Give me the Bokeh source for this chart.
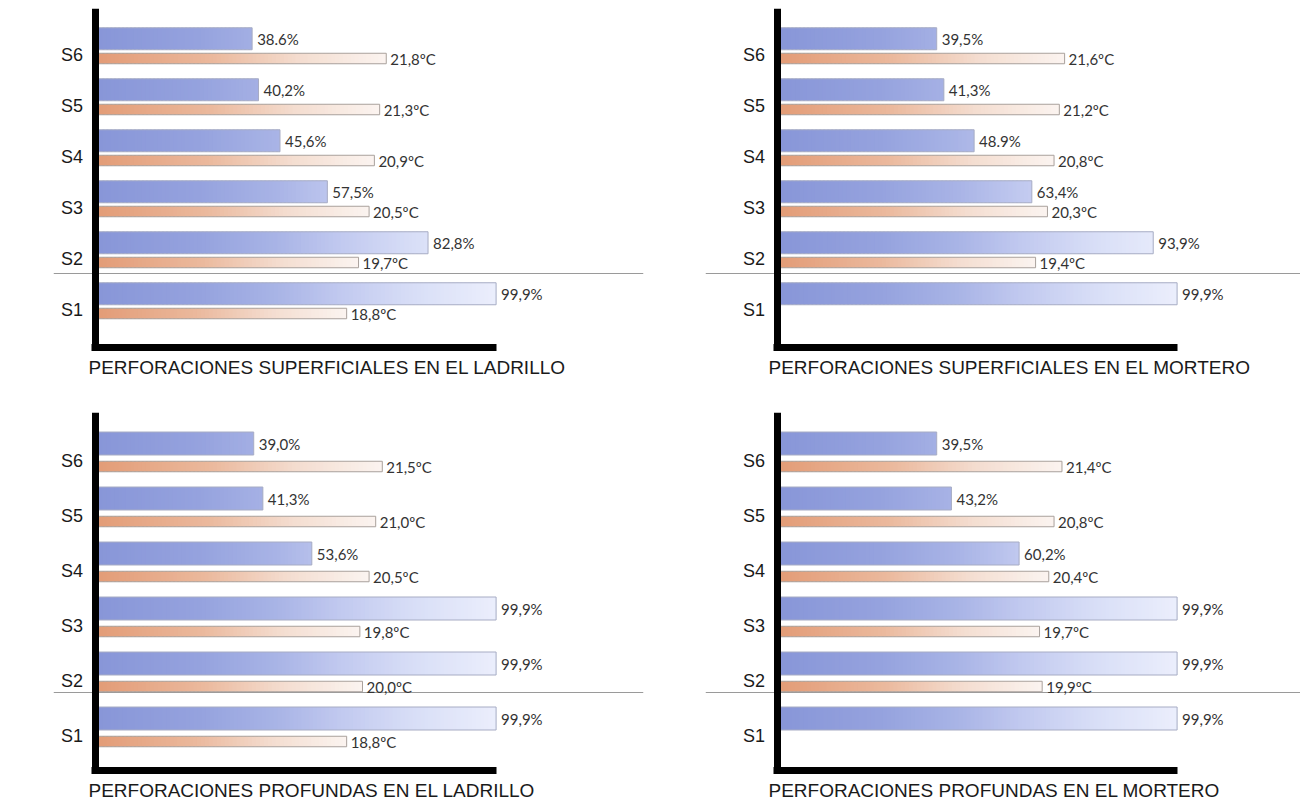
import math
from bokeh.plotting import figure
from bokeh.models import Range1d, FixedTicker, Span, Title, ColumnDataSource
from bokeh.layouts import column, row
from bokeh.core.properties import value
from bokeh.embed import file_html
from bokeh.resources import INLINE

# ---------------- data ----------------
categories = ["S1", "S2", "S3", "S4", "S5", "S6"]

titles = [
    "PERFORACIONES SUPERFICIALES EN EL LADRILLO",
    "PERFORACIONES SUPERFICIALES EN EL MORTERO",
    "PERFORACIONES PROFUNDAS EN EL LADRILLO",
    "PERFORACIONES PROFUNDAS EN EL MORTERO",
]

sup_ladrillo_pct = [99.9, 82.8, 57.5, 45.6, 40.2, 38.6]
sup_ladrillo_temp = [18.8, 19.7, 20.5, 20.9, 21.3, 21.8]
sup_ladrillo_pct_labels = ["99,9%", "82,8%", "57,5%", "45,6%", "40,2%", "38.6%"]
sup_ladrillo_temp_labels = ["18,8ºC", "19,7ºC", "20,5ºC", "20,9ºC", "21,3ºC", "21,8ºC"]

sup_mortero_pct = [99.9, 93.9, 63.4, 48.9, 41.3, 39.5]
sup_mortero_temp = [None, 19.4, 20.3, 20.8, 21.2, 21.6]
sup_mortero_pct_labels = ["99,9%", "93,9%", "63,4%", "48.9%", "41,3%", "39,5%"]
sup_mortero_temp_labels = [None, "19,4ºC", "20,3ºC", "20,8ºC", "21,2ºC", "21,6ºC"]

prof_ladrillo_pct = [99.9, 99.9, 99.9, 53.6, 41.3, 39.0]
prof_ladrillo_temp = [18.8, 20.0, 19.8, 20.5, 21.0, 21.5]
prof_ladrillo_pct_labels = ["99,9%", "99,9%", "99,9%", "53,6%", "41,3%", "39,0%"]
prof_ladrillo_temp_labels = ["18,8ºC", "20,0ºC", "19,8ºC", "20,5ºC", "21,0ºC", "21,5ºC"]

prof_mortero_pct = [99.9, 99.9, 99.9, 60.2, 43.2, 39.5]
prof_mortero_temp = [None, 19.9, 19.7, 20.4, 20.8, 21.4]
prof_mortero_pct_labels = ["99,9%", "99,9%", "99,9%", "60,2%", "43,2%", "39,5%"]
prof_mortero_temp_labels = [None, "19,9ºC", "19,7ºC", "20,4ºC", "20,8ºC", "21,4ºC"]

# ---------------- styling / geometry ----------------
BLUE_STOPS = [(0.0, "#8896d8"), (0.25, "#95a2de"), (0.45, "#a9b4e6"),
              (0.6, "#c0c8ef"), (0.8, "#d9dff7"), (1.0, "#ebeefc")]
TEMP_STOPS = [(0.0, "#e39c77"), (0.4, "#ebb99d"), (0.7, "#f4ddd0"), (1.0, "#fbf4f0")]

PX_PER_PCT = 3.98
PX_PER_DEG = 13.2

COLS = {
    "left": dict(border_left=53, frame_w=590, border_right=17, frame_left=53,
                 zero=98, axis_l=91, title_off=35),
    "right": dict(border_left=45, frame_w=595, border_right=0, frame_left=705,
                  zero=779, axis_l=773, title_off=63),
}
ROWS = {
    "top": dict(border_top=8, frame_h=339, border_bottom=57, frame_top=8,
                tick_s6=54, unit=51, blue_off=-15.75, blue_h=22,
                temp_off=4, temp_h=10.5, sep=273),
    "bottom": dict(border_top=8, frame_h=358, border_bottom=27, frame_top=412,
                   tick_s6=460, unit=55, blue_off=-17, blue_h=23,
                   temp_off=6, temp_h=10.5, sep=692),
}

LABEL_FONT = "Liberation Sans"
VALUE_FONT = "Lato"


def hex2rgb(h):
    return tuple(int(h[i:i + 2], 16) for i in (1, 3, 5))


def interp(stops, t):
    t = max(0.0, min(1.0, t))
    for (t0, c0), (t1, c1) in zip(stops, stops[1:]):
        if t <= t1:
            u = (t - t0) / (t1 - t0) if t1 > t0 else 0
            a, b = hex2rgb(c0), hex2rgb(c1)
            return "#%02x%02x%02x" % tuple(round(a[i] + (b[i] - a[i]) * u) for i in range(3))
    return stops[-1][1]


def slices(vals, ys, step, stops, scale=None):
    """Split each bar (0..v) into thin, slightly overlapping slices for a gradient."""
    L, R, Y, C = [], [], [], []
    for v, y in zip(vals, ys):
        if v is None:
            continue
        n = max(1, int(math.ceil(v / step)))
        for i in range(n):
            a = v * i / n
            b = v * (i + 1) / n
            t = ((a + b) / 2) / (scale if scale else v)
            L.append(a)
            R.append(min(v, b + 0.5 * (b - a)))
            Y.append(y)
            C.append(interp(stops, t))
    return dict(left=L, right=R, y=Y, color=C)


def panel(title, pct, temp, pct_labels, temp_labels, col, rw):
    g = COLS[col]
    t = ROWS[rw]
    unit = t["unit"]
    x_start = (g["frame_left"] - g["zero"]) / PX_PER_PCT
    x_end = (g["frame_left"] + g["frame_w"] - g["zero"]) / PX_PER_PCT
    tx_start = (g["frame_left"] - g["zero"]) / PX_PER_DEG
    tx_end = (g["frame_left"] + g["frame_w"] - g["zero"]) / PX_PER_DEG
    y_end = 6 + (t["tick_s6"] - t["frame_top"]) / unit
    y_start = y_end - t["frame_h"] / unit

    p = figure(frame_width=g["frame_w"], frame_height=t["frame_h"],
               min_border_left=g["border_left"], min_border_right=g["border_right"],
               min_border_top=t["border_top"], min_border_bottom=t["border_bottom"],
               x_range=Range1d(x_start, x_end), y_range=Range1d(y_start, y_end),
               output_backend="svg", toolbar_location=None, tools="", title=None)
    p.extra_x_ranges = {"temp": Range1d(tx_start, tx_end)}
    p.xgrid.visible = False
    p.ygrid.visible = False
    p.outline_line_color = None
    p.background_fill_color = "white"
    p.border_fill_color = "white"

    pos = [i + 1 for i in range(len(categories))]
    blue_y = [k - t["blue_off"] / unit for k in pos]
    temp_y = [k - t["temp_off"] / unit for k in pos]
    blue_h = t["blue_h"] / unit
    temp_h = t["temp_h"] / unit

    # separator line between S1 and S2
    tick_s1 = t["tick_s6"] + 5 * unit
    sep_loc = 1 + (tick_s1 - t["sep"]) / unit
    p.add_layout(Span(location=sep_loc, dimension="width", line_color="#9a9a9a",
                      line_width=1, level="underlay"))

    # blue (percentage) bars with gradient
    bs = ColumnDataSource(slices(pct, blue_y, 1.0, BLUE_STOPS, scale=100.0))
    p.hbar(y="y", left="left", right="right", height=blue_h, source=bs,
           fill_color="color", line_color=None)
    p.hbar(y=blue_y, left=0, right=pct, height=blue_h, fill_color=None,
           line_color="#a7acc4", line_width=1)

    # temperature bars with gradient
    tv = [v for v in temp if v is not None]
    ty = [y for v, y in zip(temp, temp_y) if v is not None]
    ts = ColumnDataSource(slices(tv, ty, 0.3, TEMP_STOPS))
    p.hbar(y="y", left="left", right="right", height=temp_h, source=ts,
           fill_color="color", line_color=None, x_range_name="temp")
    p.hbar(y=ty, left=0, right=tv, height=temp_h, fill_color=None,
           line_color="#a9a19c", line_width=1, x_range_name="temp")

    # value labels
    p.text(x=pct, y=blue_y, text=pct_labels, x_offset=5, text_baseline="middle",
           text_align="left", text_font=value(VALUE_FONT), text_font_size="15px",
           text_color="#333333")
    tl = [s for s in temp_labels if s is not None]
    p.text(x=tv, y=ty, text=tl, x_offset=4, text_baseline="middle",
           text_align="left", text_font=value(VALUE_FONT), text_font_size="15px",
           text_color="#333333", x_range_name="temp")

    # y axis (thick black line with category labels)
    ya = p.yaxis[0]
    ya.ticker = FixedTicker(ticks=pos)
    ya.major_label_overrides = {k: c for k, c in zip(pos, categories)}
    ya.fixed_location = (g["axis_l"] + 3.5 - g["zero"]) / PX_PER_PCT
    ya.axis_line_width = 7
    ya.axis_line_color = "black"
    ya.major_tick_line_color = None
    ya.minor_tick_line_color = None
    ya.major_tick_out = 0
    ya.major_tick_in = 0
    ya.minor_tick_out = 0
    ya.minor_tick_in = 0
    ya.major_label_standoff = 12
    ya.major_label_text_font = LABEL_FONT
    ya.major_label_text_font_size = "18px"
    ya.major_label_text_color = "#1a1a1a"

    # x axis (thick black baseline, no ticks)
    xa = p.xaxis[0]
    xa.ticker = FixedTicker(ticks=[])
    xa.bounds = ((g["axis_l"] - g["zero"]) / PX_PER_PCT, 100)
    xa.axis_line_width = 7
    xa.axis_line_color = "black"
    xa.major_tick_line_color = None
    xa.minor_tick_line_color = None
    xa.major_tick_out = 4
    xa.major_tick_in = 0
    xa.minor_tick_out = 0
    xa.minor_tick_in = 0
    xa.major_label_text_font_size = "0px"

    p.add_layout(Title(text=title, align="left", offset=g["title_off"], standoff=14,
                       text_font=LABEL_FONT, text_font_size="19px",
                       text_font_style="normal", text_color="#1a1a1a"), "below")
    return p


p1 = panel(titles[0], sup_ladrillo_pct, sup_ladrillo_temp,
           sup_ladrillo_pct_labels, sup_ladrillo_temp_labels, "left", "top")
p2 = panel(titles[1], sup_mortero_pct, sup_mortero_temp,
           sup_mortero_pct_labels, sup_mortero_temp_labels, "right", "top")
p3 = panel(titles[2], prof_ladrillo_pct, prof_ladrillo_temp,
           prof_ladrillo_pct_labels, prof_ladrillo_temp_labels, "left", "bottom")
p4 = panel(titles[3], prof_mortero_pct, prof_mortero_temp,
           prof_mortero_pct_labels, prof_mortero_temp_labels, "right", "bottom")

layout = column(row(p1, p2), row(p3, p4))

open("out.html", "w").write(file_html(layout, INLINE))
